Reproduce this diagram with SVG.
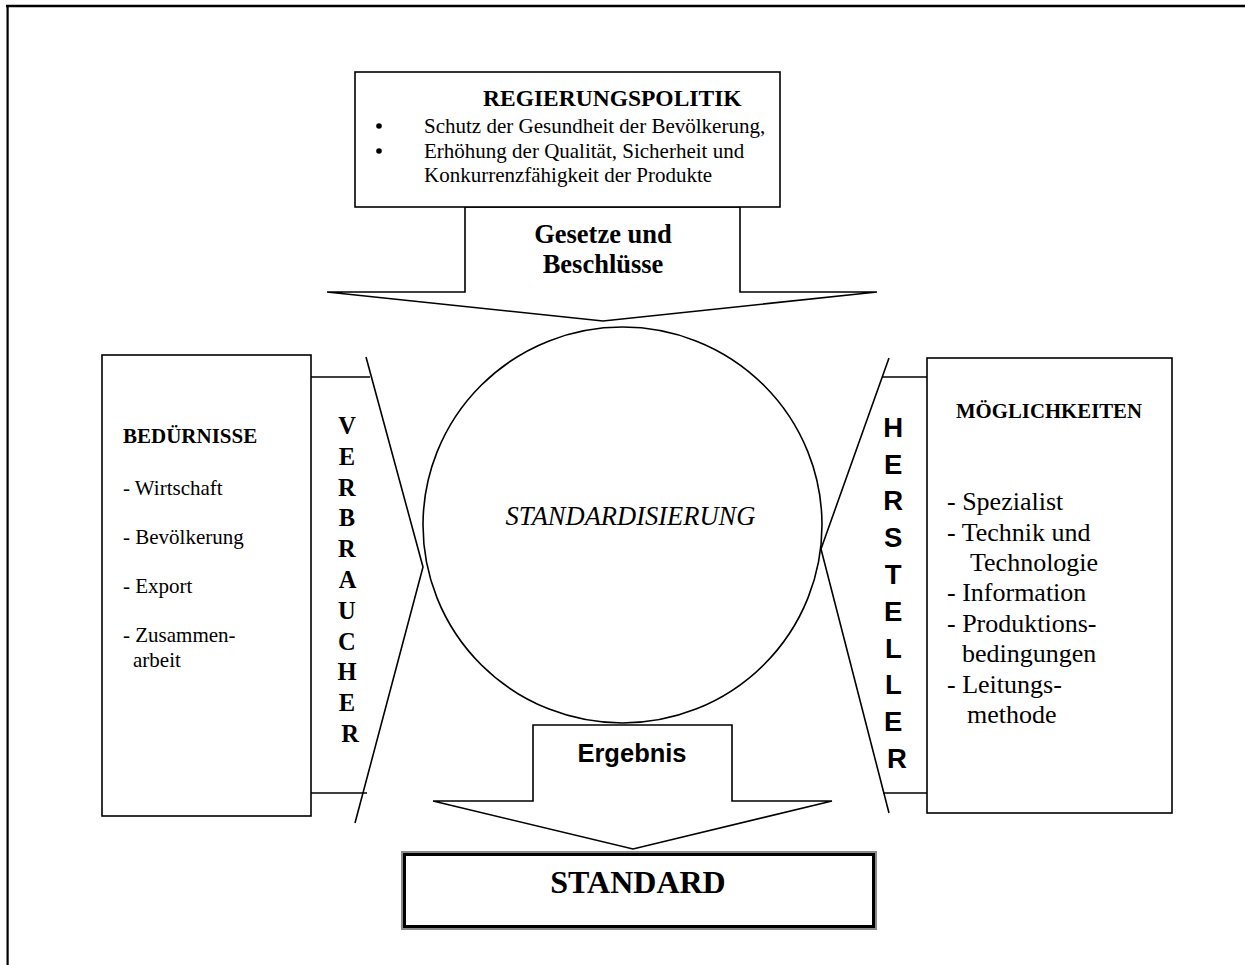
<svg xmlns="http://www.w3.org/2000/svg" width="1245" height="965" viewBox="0 0 1245 965">
  <style>
    .ln { fill: none; stroke: #000; stroke-width: 1.6; }
    .box { fill: #fff; stroke: #000; stroke-width: 1.6; }
    .serif { font-family: "Liberation Serif", "Times New Roman", serif; fill: #000; }
    .sans { font-family: "Liberation Sans", Arial, sans-serif; fill: #000; }
    .b { font-weight: bold; }
    .mid { text-anchor: middle; }
  </style>

  <!-- page frame (top and left edges) -->
  <g id="frame">
    <line x1="6" y1="6" x2="1245" y2="6" stroke="#000" stroke-width="2.6"/>
    <line x1="7.6" y1="5" x2="7.6" y2="965" stroke="#000" stroke-width="2.2"/>
  </g>

  <g id="connectors">
    <!-- laws arrow from government policy down to the circle -->
    <polygon class="box" points="465,207 465,292 327,292 603,321 877,292 740,292 740,207"/>
    <!-- result arrow down to STANDARD -->
    <polygon class="box" points="533,725 533,801 433,801 633,849 832,801 732,801 732,725"/>
    <!-- consumer chevron -->
    <polyline class="ln" points="366,357 423,567 355,823"/>
    <line class="ln" x1="311" y1="377" x2="370" y2="377"/>
    <line class="ln" x1="311" y1="793" x2="367" y2="793"/>
    <!-- producer chevron -->
    <polyline class="ln" points="889,358 821,549 889,813"/>
    <line class="ln" x1="882" y1="377" x2="927" y2="377"/>
    <line class="ln" x1="883" y1="793" x2="927" y2="793"/>
  </g>

  <g id="arrow-labels">
    <text class="serif b mid" font-size="26.5" x="603" y="243">Gesetze und</text>
    <text class="serif b mid" font-size="26.5" x="603" y="273">Beschlüsse</text>
    <text class="sans b mid" font-size="25.5" x="632" y="762">Ergebnis</text>
  </g>

  <g id="regierungspolitik">
    <rect class="box" x="355" y="72" width="425" height="135"/>
    <text class="serif b" font-size="23.5" x="483" y="106">REGIERUNGSPOLITIK</text>
    <circle cx="379" cy="126" r="2.8"/>
    <circle cx="379" cy="151" r="2.8"/>
    <text class="serif" font-size="21" x="424" y="133">Schutz der Gesundheit der Bevölkerung,</text>
    <text class="serif" font-size="21" x="424" y="158">Erhöhung der Qualität, Sicherheit und</text>
    <text class="serif" font-size="21" x="424" y="182">Konkurrenzfähigkeit der Produkte</text>
  </g>

  <g id="standardisierung">
    <ellipse class="ln" cx="622.5" cy="525" rx="199.5" ry="198"/>
    <text class="serif mid" font-size="26.5" font-style="italic" x="630.5" y="525">STANDARDISIERUNG</text>
  </g>

  <g id="beduerfnisse">
    <rect class="box" x="102" y="355" width="209" height="461"/>
    <text class="serif b" font-size="21" x="123" y="443">BEDÜRNISSE</text>
    <text class="serif" font-size="21" x="123" y="495">- Wirtschaft</text>
    <text class="serif" font-size="21" x="123" y="544">- Bevölkerung</text>
    <text class="serif" font-size="21" x="123" y="593">- Export</text>
    <text class="serif" font-size="21" x="123" y="642">- Zusammen-</text>
    <text class="serif" font-size="21" x="133" y="667">arbeit</text>
  </g>

  <g id="verbraucher">
    <text class="serif b mid" font-size="24.5" x="350">
      <tspan x="350" y="434">V</tspan>
      <tspan x="350" y="464.8">E</tspan>
      <tspan x="350" y="495.6">R</tspan>
      <tspan x="350" y="526.4">B</tspan>
      <tspan x="350" y="557.2">R</tspan>
      <tspan x="350" y="588">A</tspan>
      <tspan x="350" y="618.8">U</tspan>
      <tspan x="350" y="649.6">C</tspan>
      <tspan x="350" y="680.4">H</tspan>
      <tspan x="350" y="711.2">E</tspan>
      <tspan x="350" y="742">R</tspan>
    </text>
  </g>

  <g id="hersteller">
    <text class="sans b mid" font-size="27.5" x="897">
      <tspan x="897" y="436.7">H</tspan>
      <tspan x="897" y="473.5">E</tspan>
      <tspan x="897" y="510.3">R</tspan>
      <tspan x="897" y="547.1">S</tspan>
      <tspan x="897" y="583.9">T</tspan>
      <tspan x="897" y="620.7">E</tspan>
      <tspan x="897" y="657.5">L</tspan>
      <tspan x="897" y="694.3">L</tspan>
      <tspan x="897" y="731.1">E</tspan>
      <tspan x="897" y="768">R</tspan>
    </text>
  </g>

  <g id="moeglichkeiten">
    <rect class="box" x="927" y="358" width="245" height="455"/>
    <text class="serif b mid" font-size="20.8" x="1049" y="418">MÖGLICHKEITEN</text>
    <text class="serif" font-size="26" x="947" y="510">- Spezialist</text>
    <text class="serif" font-size="26" x="947" y="541">- Technik und</text>
    <text class="serif" font-size="26" x="970" y="571">Technologie</text>
    <text class="serif" font-size="26" x="947" y="601">- Information</text>
    <text class="serif" font-size="26" x="947" y="632">- Produktions-</text>
    <text class="serif" font-size="26" x="962" y="662">bedingungen</text>
    <text class="serif" font-size="26" x="947" y="693">- Leitungs-</text>
    <text class="serif" font-size="26" x="967" y="723">methode</text>
  </g>

  <g id="standard">
    <rect x="402" y="852" width="474" height="77" fill="#fff" stroke="#8a8a8a" stroke-width="2"/>
    <rect x="404.5" y="854.5" width="469" height="72" fill="none" stroke="#000" stroke-width="3"/>
    <text class="serif b mid" font-size="32" x="638" y="893">STANDARD</text>
  </g>
</svg>
